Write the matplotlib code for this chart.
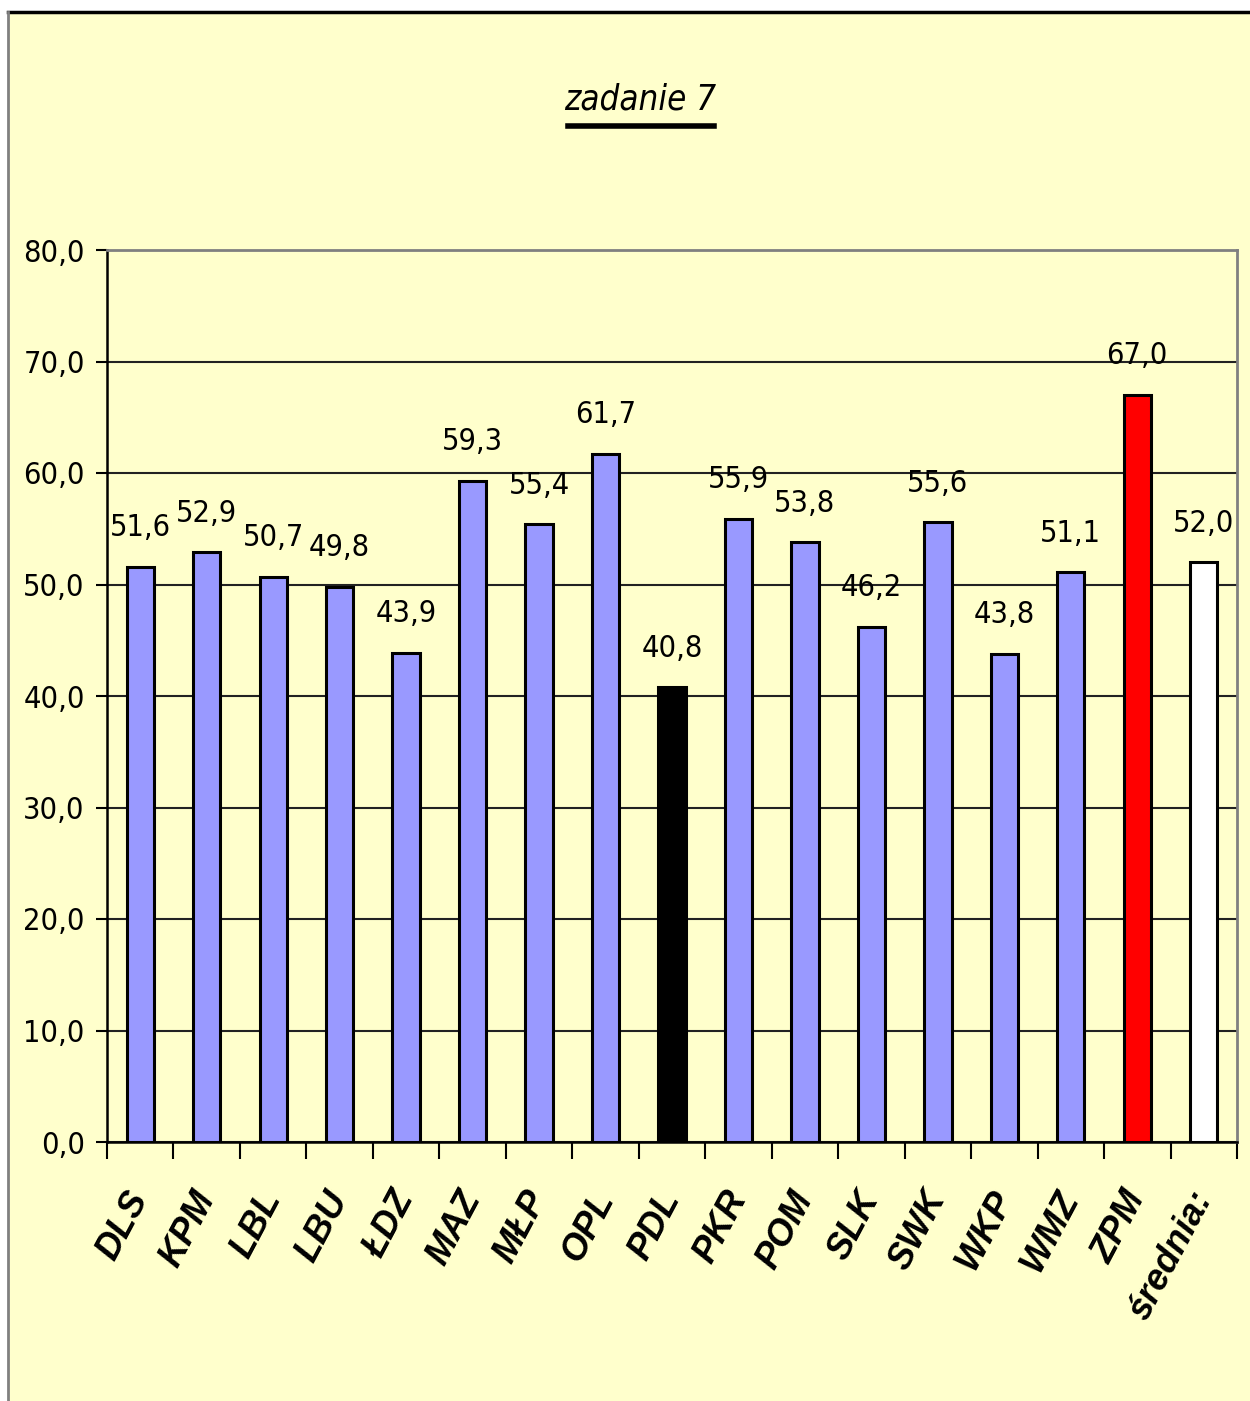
import matplotlib
matplotlib.use("Agg")
import matplotlib.pyplot as plt
from matplotlib.lines import Line2D
from matplotlib.patches import Rectangle

regions = ["DLS", "KPM", "LBL", "LBU", "ŁDZ", "MAZ", "MŁP", "OPL", "PDL",
           "PKR", "POM", "SLK", "SWK", "WKP", "WMZ", "ZPM", "średnia:"]
scores = [51.6, 52.9, 50.7, 49.8, 43.9, 59.3, 55.4, 61.7, 40.8,
          55.9, 53.8, 46.2, 55.6, 43.8, 51.1, 67.0, 52.0]
yticks = [0, 10, 20, 30, 40, 50, 60, 70, 80]

BG = "#FFFFCC"
BLUE = "#9999FF"
colors = [BLUE] * len(regions)
colors[regions.index("PDL")] = "black"
colors[regions.index("ZPM")] = "#FF0000"
colors[regions.index("średnia:")] = "white"

NARROW = dict(family="DejaVu Sans", fontstretch="condensed")
W, H = 1250, 1401

fig = plt.figure(figsize=(12.5, 14.01), dpi=100, facecolor="white")

# chart area frame (only top and left edges visible in the crop)
fig.patches.append(Rectangle((8 / W, 0), 1, 1 - 12 / H, transform=fig.transFigure,
                             facecolor=BG, edgecolor="none", zorder=-10))
fig.add_artist(Line2D([8 / W, 1], [1 - 12 / H] * 2, color="black", lw=2.5))
fig.add_artist(Line2D([8 / W] * 2, [0, 1 - 12 / H], color="#808080", lw=2))

ax = fig.add_axes([107 / W, 1 - 1142 / H, (1237 - 107) / W, (1142 - 250) / H])
ax.set_facecolor(BG)

x = list(range(len(regions)))
ax.bar(x, scores, width=0.41, color=colors, edgecolor="black", linewidth=2.2, zorder=3)

for xi, v in zip(x, scores):
    ax.annotate(f"{v:.1f}".replace(".", ","), (xi, v), xytext=(0, 22),
                textcoords="offset points", ha="center", va="baseline",
                fontsize=22, zorder=4, **NARROW)

ax.set_xlim(-0.5, len(regions) - 0.5)
ax.set_ylim(0, 80)
ax.set_yticks(yticks)
ax.set_yticklabels([f"{t:.1f}".replace(".", ",") for t in yticks], fontsize=22, **NARROW)
ax.yaxis.grid(True, color="#222222", lw=1.5, zorder=0)

ax.set_xticks(x)
ax.set_xticklabels(regions, rotation=62, ha="right", va="center", rotation_mode="anchor",
                   fontsize=26, fontweight="bold", fontstyle="italic",
                   family=["Liberation Sans", "DejaVu Sans"])
ax.set_xticks([i - 0.5 for i in range(len(regions) + 1)], minor=True)
ax.tick_params(axis="x", which="major", length=0, pad=37)
ax.tick_params(axis="x", which="minor", length=12, width=1.5, direction="out")
ax.tick_params(axis="y", length=8, width=1.5, direction="out", pad=8)

for s in ("left", "bottom"):
    ax.spines[s].set_color("black")
    ax.spines[s].set_linewidth(1.8)
for s in ("top", "right"):
    ax.spines[s].set_color("#808080")
    ax.spines[s].set_linewidth(2)

# underlined italic title
title = fig.text(640 / W, 1 - 110 / H, "zadanie 7", ha="center", va="baseline",
                 fontsize=25, fontstyle="italic", **NARROW)
fig.canvas.draw()
bb = title.get_window_extent().transformed(fig.transFigure.inverted())
fig.add_artist(Line2D([bb.x0 + 0.003, bb.x1 - 0.002], [1 - 126 / H] * 2, color="black", lw=4))

fig.savefig("out.png", dpi=100, facecolor="white")
